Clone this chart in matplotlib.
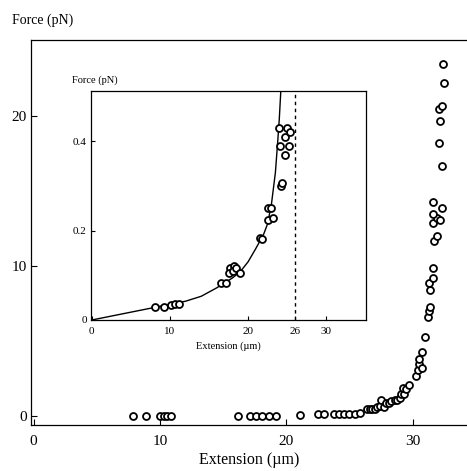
import numpy as np
import matplotlib
matplotlib.use("Agg")
import matplotlib.pyplot as plt

plt.rcParams['font.family'] = ['Liberation Serif', 'DejaVu Serif']

# force-extension data for the full stretch (um, pN)
ext_main = [7.9, 8.9, 10.0, 10.3, 10.6, 10.9, 16.2, 17.1, 17.6, 18.1, 18.6, 19.2,
            21.1, 22.5, 23.0, 23.8, 24.2, 24.6, 25.0, 25.4, 25.8,
            26.4, 26.6, 26.8, 27.0, 27.2, 27.4, 27.5, 27.7, 27.9, 28.1, 28.3,
            28.6, 28.8, 29.0, 29.1, 29.3, 29.2, 29.5, 29.7, 30.3, 30.4, 30.5,
            30.7, 30.5, 30.7, 31.0, 31.2, 31.3, 31.4, 31.35, 31.3, 31.6, 31.6,
            31.7, 31.9, 31.6, 31.9, 32.2, 31.6, 32.3, 31.6, 32.3, 32.1, 32.2,
            32.1, 32.3, 32.45, 32.4]
force_main = [0.0, 0.0, 0.0, 0.0, 0.0, 0.0, 0.0, 0.0, 0.0, 0.0, 0.0, 0.0,
              0.05, 0.1, 0.1, 0.15, 0.15, 0.15, 0.15, 0.15, 0.2,
              0.45, 0.45, 0.5, 0.5, 0.6, 0.7, 1.1, 0.6, 0.9, 0.9, 1.0,
              1.1, 1.1, 1.2, 1.5, 1.5, 1.9, 1.8, 2.1, 2.7, 3.1, 3.5,
              3.2, 3.8, 4.3, 5.3, 6.6, 7.0, 7.3, 8.4, 8.9, 9.2, 9.9,
              11.7, 12.0, 12.9, 13.2, 13.1, 13.5, 13.9, 14.3, 16.7, 18.2, 19.7,
              20.5, 20.7, 22.2, 23.5]

# low-force measurements shown in the inset
ext_low = [8.1, 9.2, 10.1, 10.6, 11.1, 16.6, 17.2, 17.7, 18.2, 17.6, 18.1, 18.4,
           19.0, 21.5, 21.8, 22.6, 22.9, 22.6, 23.2, 24.2, 24.3, 23.9, 25.0,
           24.1, 24.7, 25.4, 25.2, 24.7]
force_low = [0.030, 0.028, 0.034, 0.035, 0.035, 0.083, 0.083, 0.116, 0.120, 0.106,
             0.110, 0.117, 0.104, 0.183, 0.180, 0.250, 0.250, 0.224, 0.227, 0.300,
             0.307, 0.430, 0.430, 0.390, 0.410, 0.420, 0.390, 0.370]

# fitted curve through the low-force data
fit_ext = [0, 2, 4, 6, 8, 10, 12, 14, 16, 17, 18, 19, 20, 21, 22, 22.5, 23,
           23.5, 23.8, 24.0, 24.2]
fit_force = [0, 0.007, 0.014, 0.021, 0.028, 0.035, 0.042, 0.053, 0.072, 0.083,
             0.094, 0.108, 0.130, 0.160, 0.192, 0.215, 0.260, 0.330, 0.400,
             0.450, 0.515]
contour_length = 26

main_xticks = [0, 10, 20, 30]
main_yticks = [0, 10, 20]
inset_xticks = [0, 10, 20, 26, 30]
inset_yticks = [0, 0.2, 0.4]

fig = plt.figure(figsize=(4.67, 4.71), dpi=100)

ax = fig.add_axes([0.0664, 0.0977, 0.9336, 0.8174])
ax.plot(ext_main, force_main, 'o', ms=5.0, mfc='white', mec='black', mew=1.3)
ax.set_xlim(-0.2, 34.3)
ax.set_ylim(-0.6, 25.1)
ax.set_xticks(main_xticks)
ax.set_yticks(main_yticks)
ax.tick_params(direction='in', length=4, width=0.8, labelsize=11, pad=7)
ax.tick_params(axis='y', pad=3)
ax.spines['right'].set_visible(False)
for s in ['left', 'top', 'bottom']:
    ax.spines[s].set_linewidth(0.9)
ax.set_xlabel('Extension (µm)', fontsize=11.5, labelpad=3)
fig.text(0.026, 0.957, 'Force (pN)', fontsize=10, ha='left', va='center')

ins = fig.add_axes([0.1949, 0.3206, 0.5889, 0.4862])
ins.plot(fit_ext, fit_force, '-', color='black', lw=1.0, zorder=2)
ins.plot(ext_low, force_low, 'o', ms=5.0, mfc='white', mec='black', mew=1.3,
         zorder=3)
# dashed marker at the contour length
ins.axvline(contour_length, color='black', lw=1.0, ls=(0, (2.5, 2.5)))
ins.set_xlim(-0.1, 35.1)
ins.set_ylim(0, 0.512)
ins.set_xticks(inset_xticks)
ins.set_xticklabels([str(t) for t in inset_xticks])
ins.set_yticks(inset_yticks)
ins.set_yticklabels(['0', '0.2', '0.4'])
ins.tick_params(direction='in', length=3, width=0.8, labelsize=8, pad=5)
ins.tick_params(axis='y', pad=3)
for s in ins.spines.values():
    s.set_linewidth(0.9)
ins.set_xlabel('Extension (µm)', fontsize=7.5, labelpad=4)
fig.text(0.154, 0.830, 'Force (pN)', fontsize=7.5, ha='left', va='center')

fig.savefig('out.png', dpi=100)
